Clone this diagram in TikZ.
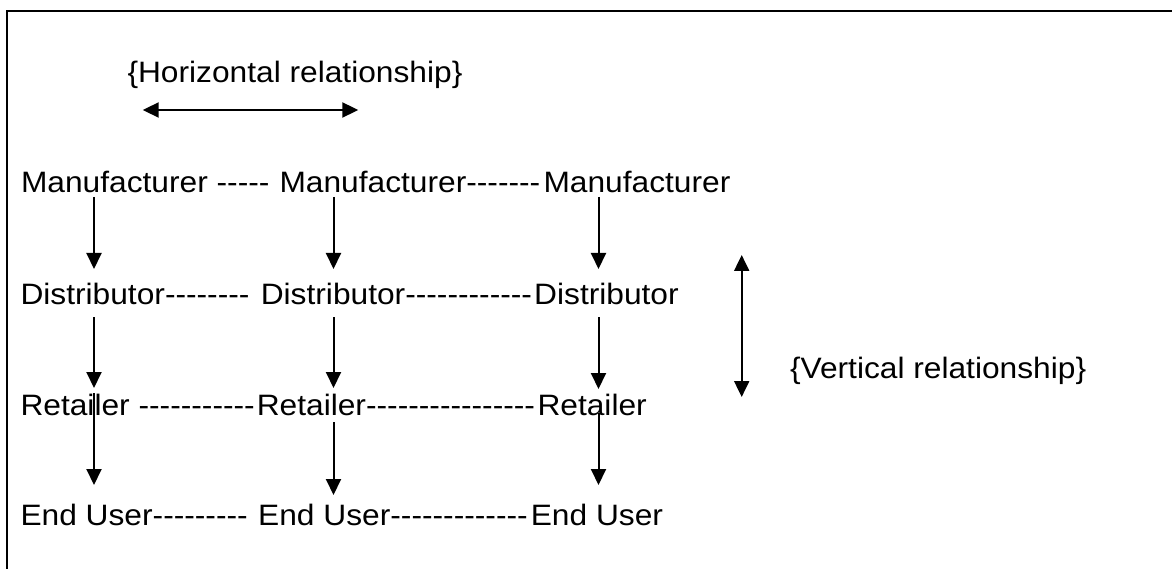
\documentclass[tikz,border=0pt]{standalone}
\usepackage{fontspec}
\setmainfont{Liberation Sans}[FakeStretch=1.075,Ligatures=TeXOff]
\usetikzlibrary{arrows.meta}
\begin{document}
\begin{tikzpicture}[x=1pt,y=-1pt,
  lbl/.style={inner sep=0pt, outer sep=0pt, anchor=base west,
              font=\fontsize{29.5}{35}\selectfont},
  flow/.style={line width=2pt, -{Triangle[length=16pt,width=15pt]}},
  both/.style={line width=2pt,
               {Triangle[length=16pt,width=15pt]}-{Triangle[length=16pt,width=15pt]}},
  frame/.style={line width=2pt}]
\useasboundingbox (0,0) rectangle (1172,569);

% frame (top and left edges)
\draw[frame] (7,569) -- (7,11) -- (1172,11);

% headings
\node[lbl] (htitle) at (127.5,83) {\{Horizontal relationship\}};
\node[lbl] (vtitle) at (790,378) {\{Vertical relationship\}};

% horizontal relation arrow
\coordinate (hl) at (142.7,110);
\coordinate (hr) at (358.3,110);
\draw[both] (hl) -- (hr);

% vertical relation arrow
\coordinate (vt) at (741.7,255);
\coordinate (vb) at (741.7,397);
\draw[both] (vt) -- (vb);

% row 1
\node[lbl] (m1) at (21,193) {Manufacturer};
\node[lbl] (m2) at (279.5,193) {Manufacturer};
\node[lbl] (m3) at (543.5,193) {Manufacturer};
\node[lbl] (md1) at (m1.base east) {\ -----};
\node[lbl] (md2) at (m2.base east) {-------};

% row 2
\node[lbl] (d1) at (20.5,304) {Distributor};
\node[lbl] (d2) at (260.8,304) {Distributor};
\node[lbl] (d3) at (534.2,304) {Distributor};
\node[lbl] (dd1) at (d1.base east) {--------};
\node[lbl] (dd2) at (d2.base east) {------------};

% row 3
\node[lbl] (r1) at (20.5,415) {Retailer};
\node[lbl] (r2) at (256.8,415) {Retailer};
\node[lbl] (r3) at (537.5,415) {Retailer};
\node[lbl] (rd1) at (r1.base east) {\ -----------};
\node[lbl] (rd2) at (r2.base east) {----------------};

% row 4
\node[lbl] (e1) at (20.5,525) {End User};
\node[lbl] (e2) at (258.2,525) {End User};
\node[lbl] (e3) at (530.8,525) {End User};
\node[lbl] (ed1) at (e1.base east) {---------};
\node[lbl] (ed2) at (e2.base east) {-------------};

% arrow end points, column by column
\coordinate (a1s) at (94,197);    \coordinate (a1e) at (94,269);
\coordinate (a2s) at (333.5,197); \coordinate (a2e) at (333.5,269);
\coordinate (a3s) at (598.5,197); \coordinate (a3e) at (598.5,269);
\coordinate (b1s) at (94,317);    \coordinate (b1e) at (94,388);
\coordinate (b2s) at (333.5,317); \coordinate (b2e) at (333.5,388);
\coordinate (b3s) at (598.5,317); \coordinate (b3e) at (598.5,389);
\coordinate (c1s) at (94,393);    \coordinate (c1e) at (94,485);
\coordinate (c2s) at (333.5,422); \coordinate (c2e) at (333.5,495);
\coordinate (c3s) at (598.5,413); \coordinate (c3e) at (598.5,485);

% manufacturer -> distributor
\draw[flow] (a1s) -- (a1e);
\draw[flow] (a2s) -- (a2e);
\draw[flow] (a3s) -- (a3e);
% distributor -> retailer
\draw[flow] (b1s) -- (b1e);
\draw[flow] (b2s) -- (b2e);
\draw[flow] (b3s) -- (b3e);
% retailer -> end user
\draw[flow] (c1s) -- (c1e);
\draw[flow] (c2s) -- (c2e);
\draw[flow] (c3s) -- (c3e);
\end{tikzpicture}
\end{document}
